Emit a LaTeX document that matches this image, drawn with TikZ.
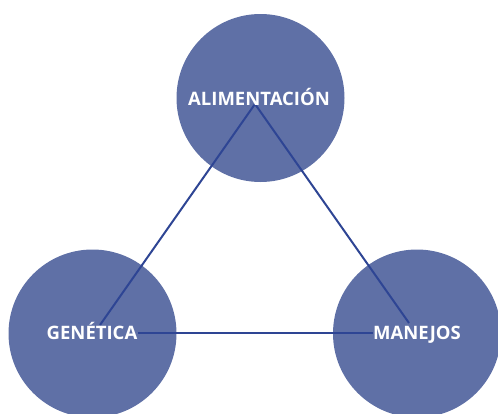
\documentclass[tikz,border=0pt]{standalone}
\usepackage{fontspec}
\setmainfont{Open Sans}
\definecolor{circfill}{RGB}{95,112,166}
\definecolor{linkcol}{RGB}{46,69,148}
\begin{document}
\begin{tikzpicture}[x=1pt,y=-1pt,
  bubble/.style={circle,fill=circfill,minimum size=168pt,inner sep=0pt},
  label/.style={text=white,font=\fontsize{18.5}{20}\selectfont\bfseries,inner sep=0pt,anchor=base},
  link/.style={draw=linkcol,line width=2pt}]
\useasboundingbox (0,0) rectangle (498,413);
\node[bubble] (c1) at (260.5,98) {};
\node[bubble] (c2) at (92.5,333.5) {};
\node[bubble] (c3) at (417,333.5) {};
\coordinate (a1) at (255,104);
\coordinate (g1) at (100,325);
\coordinate (g2) at (138,333);
\coordinate (m1) at (409,323);
\coordinate (m2) at (373,333);
\draw[link] (g1) -- (a1) -- (m1);
\draw[link] (g2) -- (m2);
\node[label] (t1) at (259,105) {ALIMENTACIÓN};
\node[label] (t2) at (92,339) {GENÉTICA};
\node[label] (t3) at (417,339) {MANEJOS};
\end{tikzpicture}
\end{document}
